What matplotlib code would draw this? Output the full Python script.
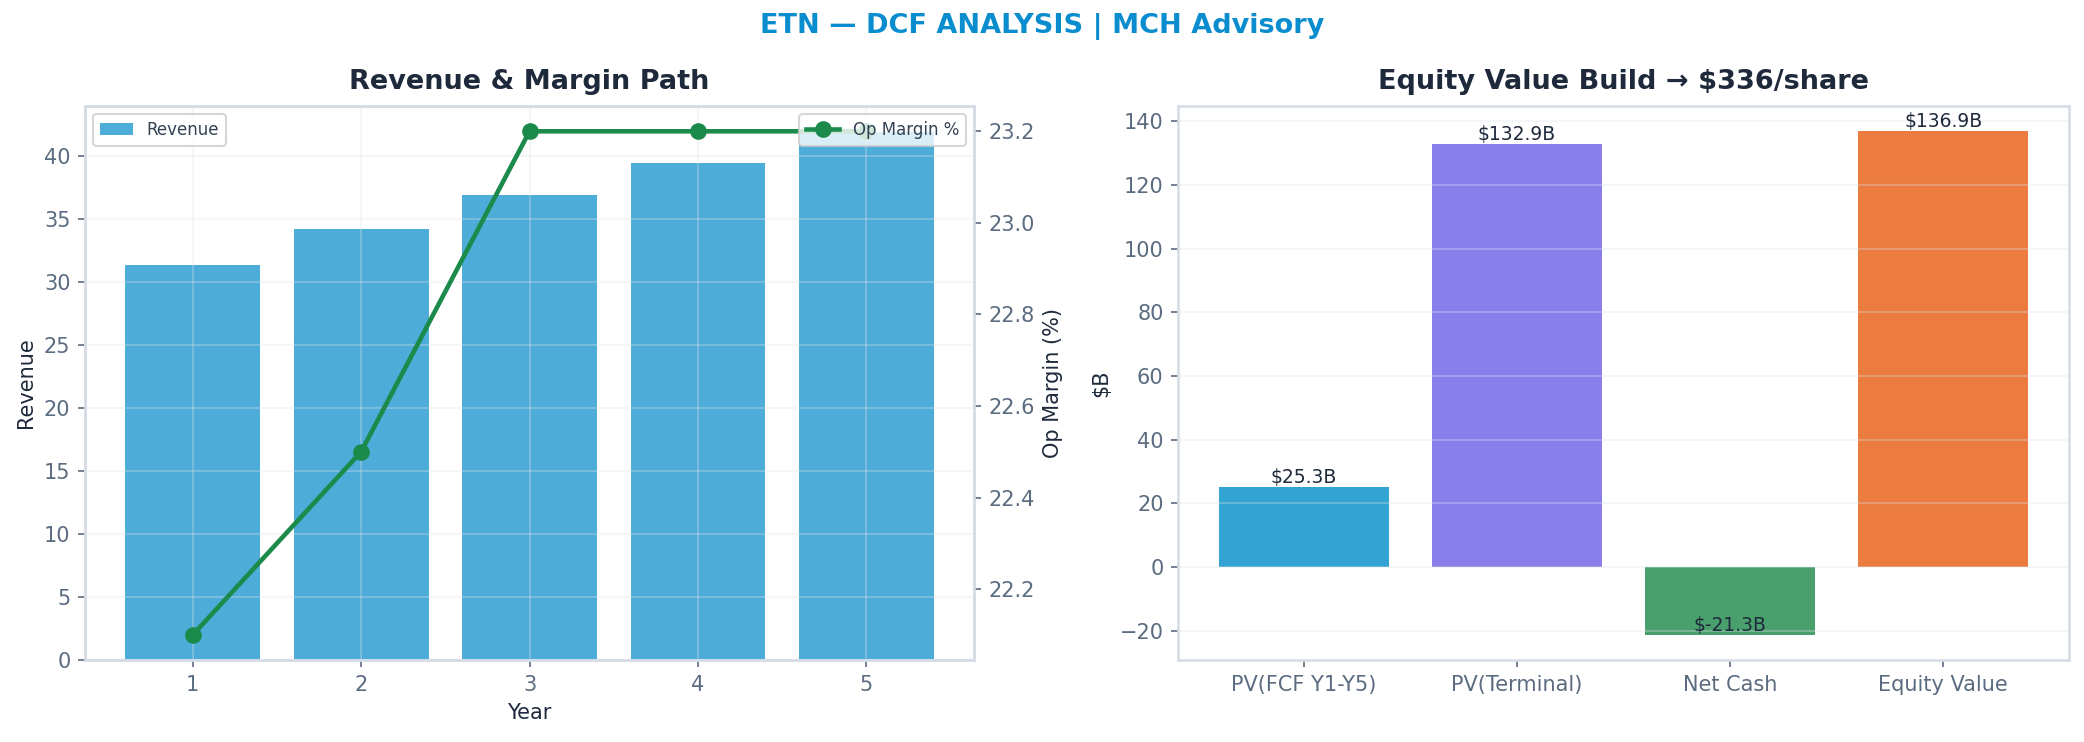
import matplotlib
matplotlib.use("Agg")
import matplotlib.pyplot as plt

# ---- data ----
years = [1, 2, 3, 4, 5]
revenue = [31.4, 34.2, 36.9, 39.5, 41.9]
op_margin = [22.1, 22.5, 23.2, 23.2, 23.2]

bridge_labels = ["PV(FCF Y1-Y5)", "PV(Terminal)", "Net Cash", "Equity Value"]
bridge_values = [25.3, 132.9, -21.3, 136.9]
bridge_colors = ["#33a3d3", "#8a7fea", "#4aa06d", "#ec7b3f"]

TITLE_C = "#1e293b"
TICK_C = "#5b6b80"
SPINE_C = "#d5dce6"
GRID_C = "#e0e4ea"

plt.rcParams["font.family"] = ["DejaVu Sans"]

fig = plt.figure(figsize=(2084 / 150, 742 / 150), dpi=150)
ax1 = fig.add_axes([0.0408, 0.1105, 0.4266, 0.7465])
ax3 = fig.add_axes([0.5653, 0.1105, 0.4275, 0.7465])


def style(ax):
    for s in ax.spines.values():
        s.set_color(SPINE_C)
        s.set_linewidth(1.2)
    ax.tick_params(colors=TICK_C, labelsize=10, color=TICK_C)


# ---- left: revenue bars + margin line ----
ax1.bar(years, revenue, width=0.8, color="#4dacd8", label="Revenue")
ax1.set_xlabel("Year", fontsize=10, color=TITLE_C)
ax1.set_ylabel("Revenue", fontsize=10, color=TITLE_C)
ax1.set_title("Revenue & Margin Path", fontsize=13, fontweight="bold", color=TITLE_C, pad=8)
ax1.grid(True, color=GRID_C, alpha=0.3, linewidth=1.0)
style(ax1)
ax1.legend(loc="upper left", fontsize=8, edgecolor="#cccccc", framealpha=0.8,
           labelcolor="#334155")

ax2 = ax1.twinx()
ax2.plot(years, op_margin, color="#1b8a4b", marker="o", linewidth=2.2, markersize=7,
         label="Op Margin %")
ax2.set_ylabel("Op Margin (%)", fontsize=10, color=TITLE_C)
style(ax2)
ax2.legend(loc="upper right", fontsize=8, edgecolor="#cccccc", framealpha=0.8,
           labelcolor="#334155")

# ---- right: equity value bridge ----
xs = range(len(bridge_labels))
ax3.bar(xs, bridge_values, width=0.8, color=bridge_colors)
for x, v in zip(xs, bridge_values):
    ax3.text(x, v, f"${v:.1f}B", ha="center", va="bottom", fontsize=9, color=TITLE_C)
ax3.set_xticks(list(xs))
ax3.set_xticklabels(bridge_labels)
ax3.set_ylabel("$B", fontsize=10, color=TITLE_C)
ax3.set_title("Equity Value Build \u2192 $336/share", fontsize=13, fontweight="bold",
              color=TITLE_C, pad=8)
ax3.grid(True, axis="y", color=GRID_C, alpha=0.3, linewidth=1.0)
style(ax3)

fig.suptitle("ETN \u2014 DCF ANALYSIS | MCH Advisory", fontsize=13, fontweight="bold",
             color="#0a8dcf", y=0.964, va="center")

fig.savefig("out.png", dpi=150, facecolor="white")
